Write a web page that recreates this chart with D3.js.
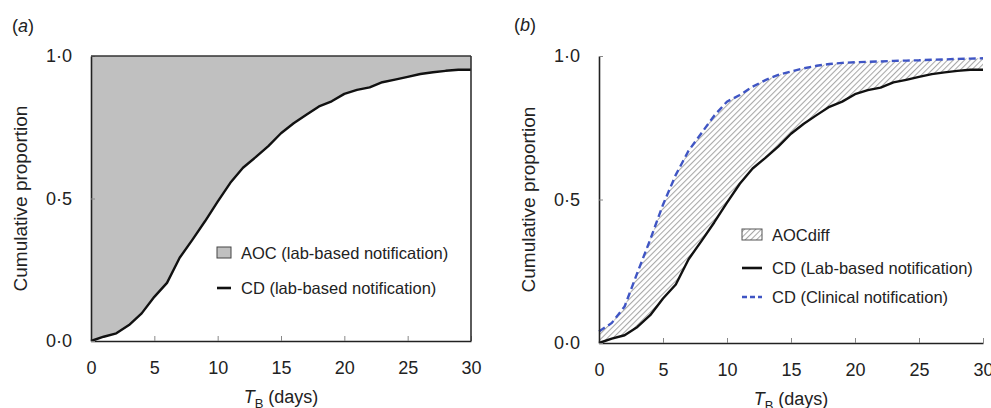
<!DOCTYPE html>
<html>
<head>
<meta charset="utf-8">
<script src="https://cdn.jsdelivr.net/npm/d3@7"></script>
<style>
  body { margin: 0; background: #fff; }
  svg text { font-family: "Liberation Sans", Arial, Helvetica, sans-serif; fill: #222; }
</style>
</head>
<body>
<div id="chart"></div>
<script>

var days = [0, 1, 2, 3, 4, 5, 6, 7, 8, 9, 10, 11, 12, 13, 14, 15, 16, 17, 18, 19, 20,
            21, 22, 23, 24, 25, 26, 27, 28, 29, 30];

// cumulative distribution, lab-based notification
var labCD = [0, 0.015, 0.027, 0.056, 0.097, 0.155, 0.204, 0.292, 0.355, 0.42, 0.489,
             0.555, 0.608, 0.645, 0.684, 0.729, 0.764, 0.794, 0.823, 0.841, 0.867,
             0.881, 0.89, 0.908, 0.917, 0.927, 0.937, 0.943, 0.948, 0.952, 0.952];

// cumulative distribution, clinical notification
var clinicalCD = [0.04, 0.07, 0.127, 0.245, 0.36, 0.482, 0.586, 0.67, 0.731, 0.792, 0.841,
                  0.864, 0.893, 0.916, 0.934, 0.946, 0.957, 0.966, 0.972, 0.976, 0.978,
                  0.98, 0.981, 0.983, 0.984, 0.985, 0.987, 0.988, 0.99, 0.991, 0.992];

var xTicks = [0, 5, 10, 15, 20, 25, 30];
var yTicks = [0, 0.5, 1];

var legendA = ["AOC (lab-based notification)", "CD (lab-based notification)"];
var legendB = ["AOCdiff", "CD (Lab-based notification)", "CD (Clinical notification)"];

var points = days.map(function (d, i) {
    return {t: d, lab: labCD[i], clin: clinicalCD[i]};
});

var svg = d3.select("#chart").append("svg").attr("width", 991).attr("height", 408);

var defs = svg.append("defs");
var hatch = defs.append("pattern").attr("id", "hatch")
    .attr("patternUnits", "userSpaceOnUse").attr("width", 4).attr("height", 4)
    .attr("patternTransform", "rotate(45)");
hatch.append("rect").attr("width", 4).attr("height", 4).attr("fill", "#fff");
hatch.append("line").attr("x1", 0.5).attr("y1", 0).attr("x2", 0.5).attr("y2", 4)
    .attr("stroke", "#a8a8a8").attr("stroke-width", 1.1);

var fmt = function (v) { return d3.format(".1f")(v).replace(".", "·"); };

function drawAxes(g, x, y, left, right, top, bottom, boxed) {
    var xAxis = d3.axisBottom(x).tickValues(xTicks).tickSize(-5).tickPadding(20).tickSizeOuter(0);
    var gx = g.append("g").attr("transform", "translate(0," + bottom + ")").call(xAxis);
    gx.select(".domain").attr("stroke", "#222").attr("stroke-width", 1.6);
    gx.selectAll(".tick line").attr("stroke", "#888");
    gx.selectAll(".tick text").attr("font-size", 18).attr("fill", "#222")
        .attr("font-family", "Liberation Sans, Arial, sans-serif");

    var yAxis = d3.axisLeft(y).tickValues(yTicks).tickSize(-4).tickPadding(19)
        .tickFormat(fmt).tickSizeOuter(0);
    var gy = g.append("g").attr("transform", "translate(" + left + ",0)").call(yAxis);
    gy.select(".domain").attr("stroke", "#222").attr("stroke-width", 1.6);
    gy.selectAll(".tick line").attr("stroke", "#888");
    gy.selectAll(".tick text").attr("font-size", 18).attr("fill", "#222")
        .attr("font-family", "Liberation Sans, Arial, sans-serif");

    if (boxed) {
        g.append("line").attr("x1", left).attr("x2", right).attr("y1", top).attr("y2", top)
            .attr("stroke", "#333").attr("stroke-width", 1.6);
        g.append("line").attr("x1", right).attr("x2", right).attr("y1", top).attr("y2", bottom)
            .attr("stroke", "#333").attr("stroke-width", 1.6);
    }

    // axis titles
    g.append("text").attr("transform", "translate(" + (left - 71) + "," + ((top + bottom) / 2) + ") rotate(-90)")
        .attr("text-anchor", "middle").attr("dominant-baseline", "central")
        .attr("font-size", 19).text("Cumulative proportion");

    var xt = g.append("text").attr("x", (left + right) / 2).attr("y", bottom + 62)
        .attr("text-anchor", "middle").attr("font-size", 18);
    xt.append("tspan").attr("font-style", "italic").text("T");
    xt.append("tspan").attr("font-size", 13).attr("dy", 5).text("B");
    xt.append("tspan").attr("dy", -5).text(" (days)");
}

function panelLabel(x, y, letter) {
    var t = svg.append("text").attr("x", x).attr("y", y).attr("font-size", 18);
    t.append("tspan").text("(");
    t.append("tspan").attr("font-style", "italic").text(letter);
    t.append("tspan").text(")");
}

// ---------- panel (a) ----------
var xa = d3.scaleLinear().domain([0, 30]).range([91, 471]);
var ya = d3.scaleLinear().domain([0, 1]).range([341, 56]);
var ga = svg.append("g");

var aocArea = d3.area().x(function (d) { return xa(d.t); })
    .y0(ya(1)).y1(function (d) { return ya(d.lab); });
ga.append("path").datum(points).attr("d", aocArea).attr("fill", "#c0c0c0");

var labLineA = d3.line().x(function (d) { return xa(d.t); }).y(function (d) { return ya(d.lab); });
ga.append("path").datum(points).attr("d", labLineA).attr("fill", "none")
    .attr("stroke", "#111").attr("stroke-width", 2.4).attr("stroke-linejoin", "round");

drawAxes(ga, xa, ya, 91, 471, 56, 341, true);
panelLabel(12, 32, "a");

// legend (a)
var la = ga.append("g");
la.append("rect").attr("x", 217).attr("y", 247).attr("width", 14).attr("height", 11)
    .attr("fill", "#c0c0c0").attr("stroke", "#444").attr("stroke-width", 1);
la.append("text").attr("x", 241).attr("y", 253).attr("dominant-baseline", "central")
    .attr("font-size", 16.5).text(legendA[0]);
la.append("line").attr("x1", 217).attr("x2", 231).attr("y1", 288).attr("y2", 288)
    .attr("stroke", "#111").attr("stroke-width", 2.6);
la.append("text").attr("x", 241).attr("y", 288).attr("dominant-baseline", "central")
    .attr("font-size", 16.5).text(legendA[1]);

// ---------- panel (b) ----------
var xb = d3.scaleLinear().domain([0, 30]).range([599, 983]);
var yb = d3.scaleLinear().domain([0, 1]).range([343, 56]);
var gb = svg.append("g");

var diffArea = d3.area().x(function (d) { return xb(d.t); })
    .y0(function (d) { return yb(d.lab); }).y1(function (d) { return yb(d.clin); });
gb.append("path").datum(points).attr("d", diffArea).attr("fill", "url(#hatch)");

var labLineB = d3.line().x(function (d) { return xb(d.t); }).y(function (d) { return yb(d.lab); });
gb.append("path").datum(points).attr("d", labLineB).attr("fill", "none")
    .attr("stroke", "#111").attr("stroke-width", 2.4).attr("stroke-linejoin", "round");

var clinLine = d3.line().x(function (d) { return xb(d.t); }).y(function (d) { return yb(d.clin); });
gb.append("path").datum(points).attr("d", clinLine).attr("fill", "none")
    .attr("stroke", "#3f55c4").attr("stroke-width", 2.4).attr("stroke-dasharray", "7,4");

drawAxes(gb, xb, yb, 599, 983, 56, 343, false);
panelLabel(514, 31, "b");

// legend (b)
var lb = gb.append("g");
lb.append("rect").attr("x", 742).attr("y", 229).attr("width", 20).attr("height", 11)
    .attr("fill", "url(#hatch)").attr("stroke", "#555").attr("stroke-width", 1);
lb.append("text").attr("x", 772).attr("y", 235).attr("dominant-baseline", "central")
    .attr("font-size", 16.5).text(legendB[0]);
lb.append("line").attr("x1", 742).attr("x2", 762).attr("y1", 268).attr("y2", 268)
    .attr("stroke", "#111").attr("stroke-width", 2.6);
lb.append("text").attr("x", 772).attr("y", 268).attr("dominant-baseline", "central")
    .attr("font-size", 16.5).text(legendB[1]);
lb.append("line").attr("x1", 742).attr("x2", 762).attr("y1", 297).attr("y2", 297)
    .attr("stroke", "#3f55c4").attr("stroke-width", 2.4).attr("stroke-dasharray", "5,3");
lb.append("text").attr("x", 772).attr("y", 297).attr("dominant-baseline", "central")
    .attr("font-size", 16.5).text(legendB[2]);

</script>
</body>
</html>
